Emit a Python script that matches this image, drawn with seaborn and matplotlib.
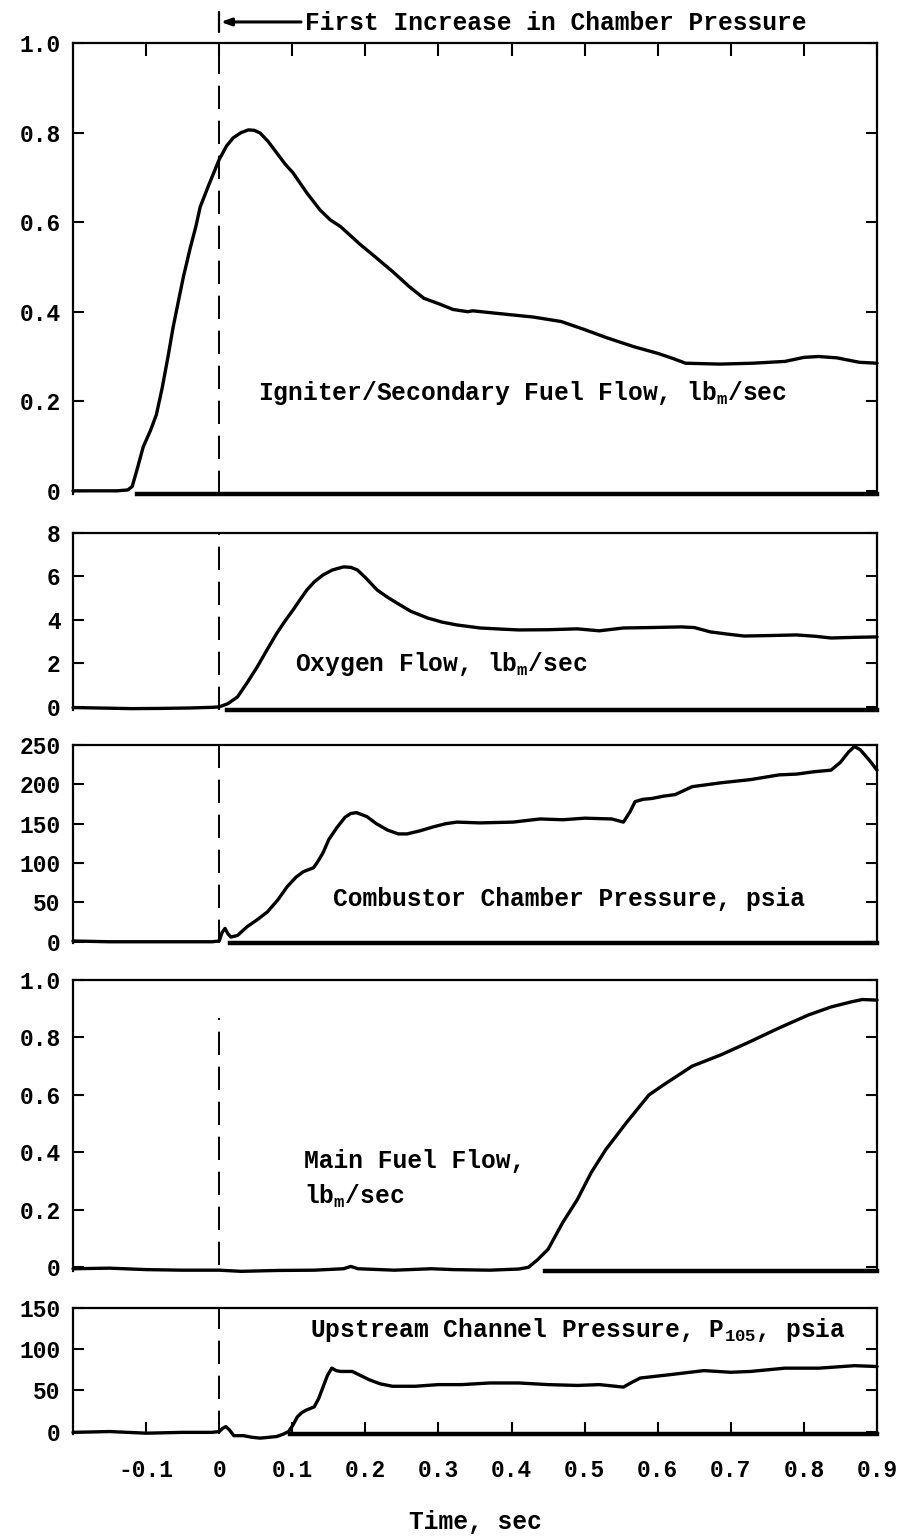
import matplotlib
matplotlib.use("Agg")
import matplotlib.pyplot as plt
import numpy as np
import seaborn as sns

# time axis ticks (sec)
TIME_TICKS = [-0.1, 0.0, 0.1, 0.2, 0.3, 0.4, 0.5, 0.6, 0.7, 0.8, 0.9]
TIME_LABELS = ["-0.1", "0", "0.1", "0.2", "0.3", "0.4", "0.5", "0.6", "0.7", "0.8", "0.9"]

# igniter / secondary fuel flow, lbm/sec
igniter_t = [-0.20, -0.17, -0.14, -0.125, -0.119, -0.112, -0.104, -0.094, -0.086, -0.078,
             -0.070, -0.063, -0.055, -0.049, -0.040, -0.032, -0.026, -0.015, 0.0, 0.010,
             0.019, 0.030, 0.040, 0.048, 0.056, 0.067, 0.079, 0.090, 0.101, 0.120,
             0.138, 0.152, 0.166, 0.193, 0.213, 0.237, 0.26, 0.28, 0.30, 0.32,
             0.34, 0.347, 0.37, 0.40, 0.43, 0.468, 0.50, 0.53, 0.567, 0.60,
             0.62, 0.638, 0.685, 0.73, 0.774, 0.80, 0.82, 0.845, 0.876, 0.90]
igniter_v = [0.0, 0.0, 0.0, 0.002, 0.01, 0.05, 0.098, 0.135, 0.17, 0.23,
             0.30, 0.366, 0.43, 0.478, 0.54, 0.59, 0.634, 0.68, 0.74, 0.77,
             0.788, 0.80, 0.806, 0.805, 0.799, 0.78, 0.754, 0.73, 0.71, 0.665,
             0.627, 0.605, 0.59, 0.55, 0.523, 0.49, 0.456, 0.43, 0.418, 0.405,
             0.40, 0.402, 0.398, 0.393, 0.388, 0.378, 0.36, 0.342, 0.322, 0.307,
             0.296, 0.285, 0.283, 0.285, 0.289, 0.298, 0.30, 0.297, 0.287, 0.285]

# oxygen flow, lbm/sec
oxygen_t = [-0.20, -0.15, -0.12, -0.08, -0.04, -0.01, 0.0, 0.012, 0.025, 0.038,
            0.052, 0.065, 0.079, 0.090, 0.101, 0.111, 0.120, 0.130, 0.142, 0.155,
            0.170, 0.180, 0.189, 0.200, 0.216, 0.230, 0.243, 0.262, 0.285, 0.305,
            0.325, 0.357, 0.385, 0.41, 0.45, 0.49, 0.52, 0.553, 0.59, 0.632,
            0.65, 0.672, 0.695, 0.718, 0.75, 0.79, 0.815, 0.837, 0.87, 0.90]
oxygen_v = [-0.03, -0.06, -0.08, -0.07, -0.05, -0.02, 0.0, 0.15, 0.46, 1.1,
            1.84, 2.6, 3.4, 3.95, 4.46, 4.95, 5.38, 5.75, 6.07, 6.3,
            6.44, 6.42, 6.3, 5.95, 5.38, 5.05, 4.78, 4.4, 4.09, 3.9,
            3.77, 3.63, 3.58, 3.54, 3.55, 3.59, 3.5, 3.63, 3.65, 3.68,
            3.65, 3.45, 3.35, 3.26, 3.28, 3.31, 3.25, 3.17, 3.2, 3.22]

# combustor chamber pressure, psia
chamber_t = [-0.20, -0.15, -0.10, -0.05, -0.01, 0.0, 0.004, 0.008, 0.012, 0.016,
             0.025, 0.038, 0.052, 0.066, 0.080, 0.093, 0.105, 0.115, 0.129, 0.135,
             0.142, 0.150, 0.161, 0.172, 0.180, 0.188, 0.202, 0.215, 0.230, 0.245,
             0.257, 0.275, 0.293, 0.31, 0.325, 0.357, 0.402, 0.439, 0.47, 0.50,
             0.537, 0.553, 0.562, 0.569, 0.58, 0.592, 0.608, 0.624, 0.647, 0.687,
             0.727, 0.766, 0.79, 0.814, 0.837, 0.850, 0.861, 0.869, 0.877, 0.89, 0.90]
chamber_v = [1, 0, 0, 0, 0, 1, 12, 17, 10, 6,
             8, 19, 28, 38, 53, 70, 82, 89, 94, 102,
             113, 130, 145, 158, 163, 164, 159, 150, 142, 137,
             137, 141, 146, 150, 152, 151, 152, 156, 155, 157,
             156, 152, 165, 178, 181, 182, 185, 187, 197, 202,
             206, 212, 213, 216, 218, 228, 241, 248, 244, 230, 218]

# main fuel flow, lbm/sec
main_t = [-0.20, -0.15, -0.10, -0.05, 0.0, 0.03, 0.08, 0.13, 0.17, 0.18,
          0.19, 0.24, 0.29, 0.32, 0.37, 0.41, 0.423, 0.435, 0.45, 0.47,
          0.49, 0.509, 0.529, 0.557, 0.588, 0.608, 0.647, 0.687, 0.726, 0.766,
          0.806, 0.837, 0.865, 0.88, 0.90]
main_v = [-0.005, -0.003, -0.008, -0.01, -0.01, -0.014, -0.011, -0.01, -0.005, 0.003,
          -0.005, -0.01, -0.005, -0.008, -0.01, -0.006, 0.0, 0.025, 0.063, 0.156,
          0.236, 0.33, 0.41, 0.503, 0.60, 0.635, 0.70, 0.74, 0.785, 0.833,
          0.878, 0.906, 0.924, 0.932, 0.93]

# upstream channel pressure P105, psia
upstream_t = [-0.20, -0.15, -0.10, -0.05, -0.01, 0.0, 0.005, 0.009, 0.014, 0.02,
              0.033, 0.045, 0.056, 0.068, 0.079, 0.088, 0.095, 0.101, 0.107, 0.113,
              0.119, 0.13, 0.136, 0.142, 0.148, 0.154, 0.160, 0.166, 0.182, 0.205,
              0.22, 0.237, 0.268, 0.30, 0.332, 0.37, 0.41, 0.45, 0.49, 0.52,
              0.553, 0.565, 0.576, 0.616, 0.663, 0.70, 0.727, 0.774, 0.821, 0.869, 0.90]
upstream_v = [-1, 0, -2, -1, -1, 0, 4, 6, 2, -5,
              -5, -7, -8, -7, -6, -3, 0, 8, 18, 23,
              26, 30, 40, 54, 68, 77, 74, 73, 73, 63,
              58, 55, 55, 57, 57, 59, 59, 57, 56, 57,
              54, 60, 65, 69, 74, 72, 73, 77, 77, 80, 79]

sns.set_theme(style="white")
plt.rcParams["font.family"] = ["Liberation Mono", "DejaVu Sans Mono"]
plt.rcParams["font.weight"] = "bold"
plt.rcParams["mathtext.default"] = "regular"
plt.rcParams["text.color"] = "black"
plt.rcParams["axes.labelcolor"] = "black"
plt.rcParams["xtick.color"] = "black"
plt.rcParams["ytick.color"] = "black"

TICK_FS = 16.5
TEXT_FS = 17.7

fig = plt.figure(figsize=(9.05, 15.36), dpi=100)

panels = [
    dict(rect=[0.0807, 0.6784, 0.8884, 0.2936], ylim=(-0.007, 1.0),
         yticks=[0, 0.2, 0.4, 0.6, 0.8, 1.0], ylabels=["0", "0.2", "0.4", "0.6", "0.8", "1.0"],
         base=-0.112, dash=(0, 1), t=igniter_t, v=igniter_v),
    dict(rect=[0.0807, 0.5378, 0.8884, 0.1152], ylim=(-0.14, 8),
         yticks=[0, 2, 4, 6, 8], ylabels=["0", "2", "4", "6", "8"],
         base=0.01, dash=(0, 1), t=oxygen_t, v=oxygen_v),
    dict(rect=[0.0807, 0.3861, 0.8884, 0.1289], ylim=(-1.5, 250),
         yticks=[0, 50, 100, 150, 200, 250], ylabels=["0", "50", "100", "150", "200", "250"],
         base=0.015, dash=(0, 1), t=chamber_t, v=chamber_v),
    dict(rect=[0.0807, 0.1725, 0.8884, 0.1895], ylim=(-0.013, 1.0),
         yticks=[0, 0.2, 0.4, 0.6, 0.8, 1.0], ylabels=["0", "0.2", "0.4", "0.6", "0.8", "1.0"],
         base=0.446, dash=(0.02, 0.87), t=main_t, v=main_v),
    dict(rect=[0.0807, 0.0664, 0.8884, 0.0820], ylim=(-3, 150),
         yticks=[0, 50, 100, 150], ylabels=["0", "50", "100", "150"],
         base=0.097, dash=(0, 1), t=upstream_t, v=upstream_v),
]

axes = []
for p in panels:
    ax = fig.add_axes(p["rect"])
    sns.lineplot(x=np.array(p["t"]), y=np.array(p["v"]), ax=ax, color="black",
                 linewidth=2.4, clip_on=False)
    ax.axvline(0, ymin=p["dash"][0], ymax=p["dash"][1], color="black",
               linewidth=1.4, linestyle=(0, (12, 6)))
    ax.set_xlim(-0.2, 0.9)
    ax.set_ylim(*p["ylim"])
    ax.set_yticks(p["yticks"])
    ax.set_yticklabels(p["ylabels"], fontsize=TICK_FS, fontweight="bold")
    ax.set_xticks(TIME_TICKS)
    ax.set_xlabel("")
    ax.set_ylabel("")
    ax.tick_params(axis="y", direction="in", left=True, right=True, length=8,
                   width=1.5, pad=9)
    ax.tick_params(axis="x", direction="in", bottom=False, top=False,
                   labelbottom=False, length=9, width=1.5)
    for side in ["left", "right", "top"]:
        ax.spines[side].set_color("black")
        ax.spines[side].set_linewidth(1.6)
    ax.spines["bottom"].set_color("black")
    ax.spines["bottom"].set_linewidth(3.2)
    ax.spines["bottom"].set_bounds(p["base"], 0.9)
    ax.grid(False)
    axes.append(ax)

ax1, ax2, ax3, ax4, ax5 = axes

ax1.tick_params(axis="x", top=True)
ax5.tick_params(axis="x", bottom=True, labelbottom=True, pad=18)
ax5.set_xticklabels(TIME_LABELS, fontsize=TICK_FS, fontweight="bold")
ax5.set_xlabel("Time, sec", fontsize=TEXT_FS, fontweight="bold", labelpad=20)

ax1.text(0.053, 0.203, "Igniter/Secondary Fuel Flow, lb$_m$/sec", fontsize=TEXT_FS,
         fontweight="bold", ha="left", va="baseline")
ax2.text(0.104, 1.66, "Oxygen Flow, lb$_m$/sec", fontsize=TEXT_FS,
         fontweight="bold", ha="left", va="baseline")
ax3.text(0.156, 45.7, "Combustor Chamber Pressure, psia", fontsize=TEXT_FS,
         fontweight="bold", ha="left", va="baseline")
ax4.text(0.116, 0.344, "Main Fuel Flow,", fontsize=TEXT_FS,
         fontweight="bold", ha="left", va="baseline")
ax4.text(0.116, 0.222, "lb$_m$/sec", fontsize=TEXT_FS,
         fontweight="bold", ha="left", va="baseline")
ax5.text(0.124, 115, "Upstream Channel Pressure, P$_{105}$, psia", fontsize=TEXT_FS,
         fontweight="bold", ha="left", va="baseline")

# marker for the first increase in chamber pressure
ax1.plot([0, 0], [1.025, 1.069], color="black", linewidth=1.6, clip_on=False)
ax1.annotate("", xy=(0.002, 1.047), xytext=(0.112, 1.047),
             arrowprops=dict(arrowstyle="-|>,head_length=0.5,head_width=0.18",
                             color="black", lw=2.2, shrinkA=0, shrinkB=0),
             annotation_clip=False)
ax1.text(0.118, 1.029, "First Increase in Chamber Pressure", fontsize=TEXT_FS,
         fontweight="bold", ha="left", va="baseline")

fig.savefig("out.png", dpi=100, facecolor="white")
